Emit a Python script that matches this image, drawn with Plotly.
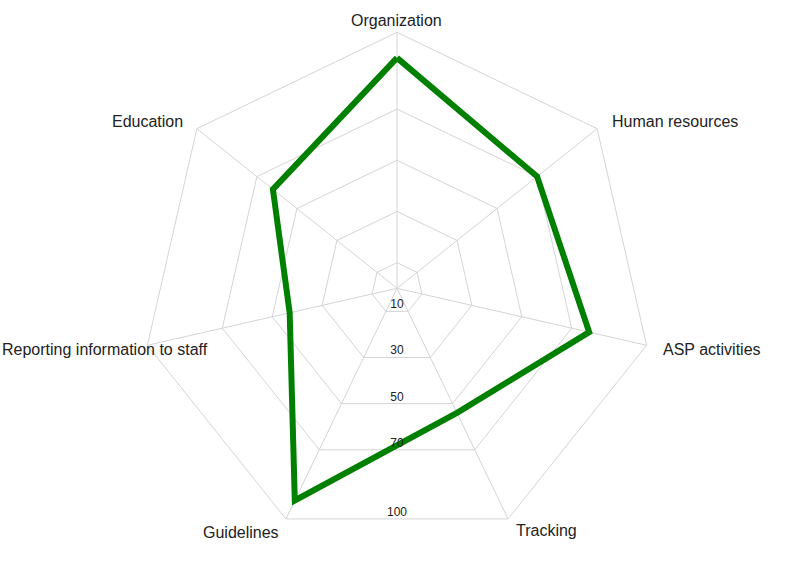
import math
import plotly.graph_objects as go

categories = ["Organization", "Human resources", "ASP activities", "Tracking",
              "Guidelines", "Reporting information to staff", "Education"]
scores = [90, 70, 77, 54, 92, 43, 62]
radial_ticks = [10, 30, 50, 70, 100]

W, H = 794, 577

# label placement (pixel position, anchors) for each category label
label_pos = [
    (396, 20, "center"),
    (610, 121, "left"),
    (661, 349, "left"),
    (546, 530, "center"),
    (241, 532, "center"),
    (0, 349, "left"),
    (185, 121, "right"),
]

theta = categories + categories[:1]
r = scores + scores[:1]

fig = go.Figure()
fig.add_trace(go.Scatterpolar(
    r=r, theta=theta, mode="lines",
    line=dict(color="#008000", width=6),
    showlegend=False, hoverinfo="skip", subplot="polar",
))

# radial tick labels drawn straight down, sitting on the polygon edges
edge = math.cos(math.pi / len(categories))
fig.add_trace(go.Scatterpolar(
    r=[v * edge for v in radial_ticks], theta=[180] * len(radial_ticks),
    mode="text", text=[str(v) for v in radial_ticks],
    textposition="top center",
    textfont=dict(size=12, color="#222222", family="Arial, Liberation Sans, sans-serif"),
    showlegend=False, hoverinfo="skip", subplot="polar2",
))

dom_x = [0.1, 0.9]
dom_y = [(H - 544.3) / H, (H - 32.3) / H]

annotations = []
for name, (px, py, anchor) in zip(categories, label_pos):
    annotations.append(dict(
        text=name, x=px / W, y=1 - py / H, xref="paper", yref="paper",
        xanchor=anchor, yanchor="middle", showarrow=False,
        font=dict(size=16, color="#222222", family="Arial, Liberation Sans, sans-serif"),
    ))

fig.update_layout(
    width=W, height=H,
    margin=dict(l=0, r=0, t=0, b=0),
    paper_bgcolor="white",
    font=dict(family="Arial, Liberation Sans, sans-serif"),
    annotations=annotations,
    polar=dict(
        domain=dict(x=dom_x, y=dom_y),
        bgcolor="white",
        gridshape="linear",
        radialaxis=dict(
            range=[0, 100], tickvals=radial_ticks,
            showticklabels=False,
            showline=False, ticks="",
            gridcolor="#d4d4d4", gridwidth=1,
        ),
        angularaxis=dict(
            direction="clockwise", rotation=90,
            categoryorder="array", categoryarray=categories,
            showline=True, linecolor="#d4d4d4", linewidth=1,
            gridcolor="#d4d4d4", gridwidth=1,
            ticks="", showticklabels=False,
        ),
    ),
    polar2=dict(
        domain=dict(x=dom_x, y=dom_y),
        bgcolor="rgba(0,0,0,0)",
        radialaxis=dict(range=[0, 100], visible=False),
        angularaxis=dict(
            type="linear", direction="clockwise", rotation=90,
            visible=False, showgrid=False, showline=False,
        ),
    ),
)

fig.write_html("out.html")
